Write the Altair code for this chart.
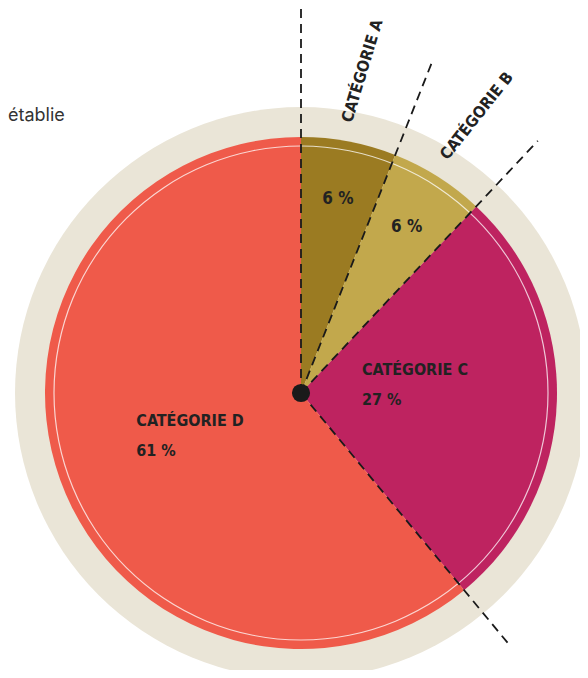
import math
import pandas as pd
import altair as alt

# ---- data ----
categories = ["CATÉGORIE A", "CATÉGORIE B", "CATÉGORIE C", "CATÉGORIE D"]
values = [6, 6, 27, 61]
pct_labels = ["6 %", "6 %", "27 %", "61 %"]
colors = ["#9B7B22", "#C2A84C", "#BE2360", "#EF5A4A"]
note_text = "établie"

# ---- layout / style ----
W, H = 572, 662
CX, CY = 293, 385          # pie centre in chart pixels
R_BG, R_PIE, R_RING = 286, 256, 247
DASH_LEN = [385, 355, 346, 328]
FONT = "'DejaVu Sans Condensed', 'Liberation Sans Narrow', 'Arial Narrow', sans-serif"
DARK = "#222222"
TAU = 2 * math.pi

xs = alt.Scale(domain=[-CX, W - CX], nice=False, zero=False)
ys = alt.Scale(domain=[CY - H, CY], nice=False, zero=False)
X = lambda f: alt.X(f, type="quantitative", scale=xs, axis=None)
Y = lambda f: alt.Y(f, type="quantitative", scale=ys, axis=None)

total = sum(values)
starts, mids = [], []
acc = 0
for v in values:
    starts.append(acc / total)
    mids.append((acc + v / 2) / total)
    acc += v

df = pd.DataFrame({"category": categories, "value": values, "idx": list(range(len(values))),
                   "pct": pct_labels, "start": starts, "mid": mids})

def polar(frac, r):
    a = TAU * frac
    return r * math.sin(a), r * math.cos(a)

one = pd.DataFrame({"v": [1]})

# background disc
bg = alt.Chart(one).mark_arc(radius=R_BG, theta=0, theta2=TAU, color="#EAE5D7").encode(
    x=alt.value(CX), y=alt.value(CY))

# pie slices
pie = alt.Chart(df).mark_arc(radius=R_PIE).encode(
    x=alt.value(CX), y=alt.value(CY),
    theta=alt.Theta("value:Q", stack=True),
    color=alt.Color("category:N", scale=alt.Scale(domain=categories, range=colors), legend=None),
    order=alt.Order("idx:Q"),
)

# thin light ring
ring = alt.Chart(one).mark_arc(
    radius=R_RING + 0.6, radius2=R_RING - 0.6, theta=0, theta2=TAU,
    color="#FFFFFF", opacity=0.75).encode(x=alt.value(CX), y=alt.value(CY))

# dashed boundary lines
rows = []
for s, L in zip(starts, DASH_LEN):
    x2, y2 = polar(s, L)
    rows.append({"x0": 0, "y0": 0, "x2": x2, "y2": y2})
rules = alt.Chart(pd.DataFrame(rows)).mark_rule(
    color="#1A1A1A", strokeWidth=1.8, strokeDash=[9, 6]).encode(
    x=X("x0"), y=Y("y0"), x2="x2:Q", y2="y2:Q")

# centre dot
dot = alt.Chart(pd.DataFrame({"x0": [0], "y0": [0]})).mark_circle(
    size=330, color="#1A1A1A", opacity=1).encode(x=X("x0"), y=Y("y0"))

# small slices: percentage inside, category outside (rotated)
small = df.iloc[:2].copy()
small["ix"] = [polar(m, 197)[0] for m in small["mid"]]
small["iy"] = [polar(m, 197)[1] for m in small["mid"]]
small["ox"] = [polar(m, 328)[0] for m in small["mid"]]
small["oy"] = [polar(m, 328)[1] for m in small["mid"]]
small["ang"] = [270 + 360 * m + 6 for m in small["mid"]]

FS = 16
inner_pct = alt.Chart(small).mark_text(
    font=FONT, fontSize=FS + 1, fontWeight="bold", color=DARK, align="center", baseline="middle").encode(
    x=X("ix"), y=Y("iy"), text="pct:N")

outer_cat = alt.Chart(small).mark_text(
    font=FONT, fontSize=FS, fontWeight="bold", color=DARK, align="center", baseline="middle").encode(
    x=X("ox"), y=Y("oy"), text="category:N", angle=alt.Angle("ang:Q", scale=None))

# big slices: two-line labels inside
big = df.iloc[2:].copy()
big_r = [108, 124]
big["lx"] = [polar(m, r)[0] for m, r in zip(big["mid"], big_r)]
big["ly"] = [polar(m, r)[1] for m, r in zip(big["mid"], big_r)]
big["label"] = [[c, p] for c, p in zip(big["category"], big["pct"])]
big["dx"] = [-47, -48]
big["dy"] = [-26, -14]

big_layers = []
for i in range(len(big)):
    row = big.iloc[[i]]
    big_layers.append(alt.Chart(row).mark_text(
        font=FONT, fontSize=FS, fontWeight="bold", color=DARK, align="left", baseline="middle",
        lineHeight=30, dx=int(row["dx"].iloc[0]), dy=int(row["dy"].iloc[0])).encode(
        x=X("lx"), y=Y("ly"), text="label"))

note = alt.Chart(pd.DataFrame({"t": [note_text], "x0": [-CX], "y0": [CY - 113]})).mark_text(
    font="Inter", fontSize=18, color="#333333", align="left", baseline="alphabetic").encode(
    x=X("x0"), y=Y("y0"), text="t:N")

chart = alt.layer(bg, pie, ring, rules, dot, inner_pct, outer_cat, *big_layers, note).properties(
    width=W, height=H, padding=0, autosize=alt.AutoSizeParams(type="none"),
    background="white",
).configure_view(stroke=None)

chart.save("out.html", embed_options={"renderer": "svg", "actions": False})
